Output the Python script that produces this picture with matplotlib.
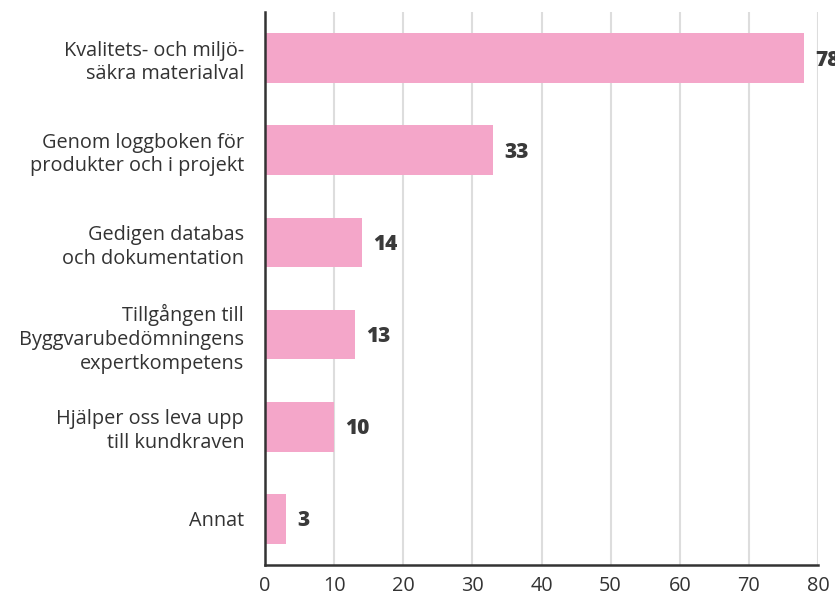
import matplotlib
matplotlib.use("Agg")
import matplotlib.pyplot as plt

categories = [
    "Kvalitets- och miljö-\nsäkra materialval",
    "Genom loggboken för\nprodukter och i projekt",
    "Gedigen databas\noch dokumentation",
    "Tillgången till\nByggvarubedömningens\nexpertkompetens",
    "Hjälper oss leva upp\ntill kundkraven",
    "Annat",
]
values = [78, 33, 14, 13, 10, 3]
xticks = [0, 10, 20, 30, 40, 50, 60, 70, 80]

bar_color = "#F4A6C9"
text_color = "#333333"

plt.rcParams['font.family'] = ['Open Sans', 'DejaVu Sans']

fig = plt.figure(figsize=(8.35, 5.97), dpi=100)
ax = fig.add_axes([265/835, 1-565/597, (818-265)/835, (565-12)/597])

ypos = list(range(len(categories)))
ax.barh(ypos, values, height=0.54, color=bar_color, zorder=3)
ax.set_ylim(len(categories)-0.5, -0.5)
ax.set_xlim(0, 80)
ax.set_xticks(xticks)
ax.set_xticklabels([str(t) for t in xticks], fontsize=14.3, color=text_color)
ax.set_yticks(ypos)
ax.set_yticklabels(categories, fontsize=14.3, color=text_color, linespacing=1.25)
ax.tick_params(axis='both', length=0)
ax.tick_params(axis='y', pad=15)
ax.tick_params(axis='x', pad=8)
ax.grid(axis='x', color='#dddddd', linewidth=1.5, zorder=0)
for s in ['top', 'right']:
    ax.spines[s].set_visible(False)
for s in ['left', 'bottom']:
    ax.spines[s].set_color('#333333')
    ax.spines[s].set_linewidth(1.8)
    ax.spines[s].set_zorder(4)

for y, v in zip(ypos, values):
    ax.annotate(str(v), xy=(v, y), xytext=(8, -1.5), textcoords='offset points',
                va='center', ha='left', fontsize=15, fontweight='heavy',
                color='#3a3a3a', annotation_clip=False)

fig.savefig("out.png", dpi=100)
